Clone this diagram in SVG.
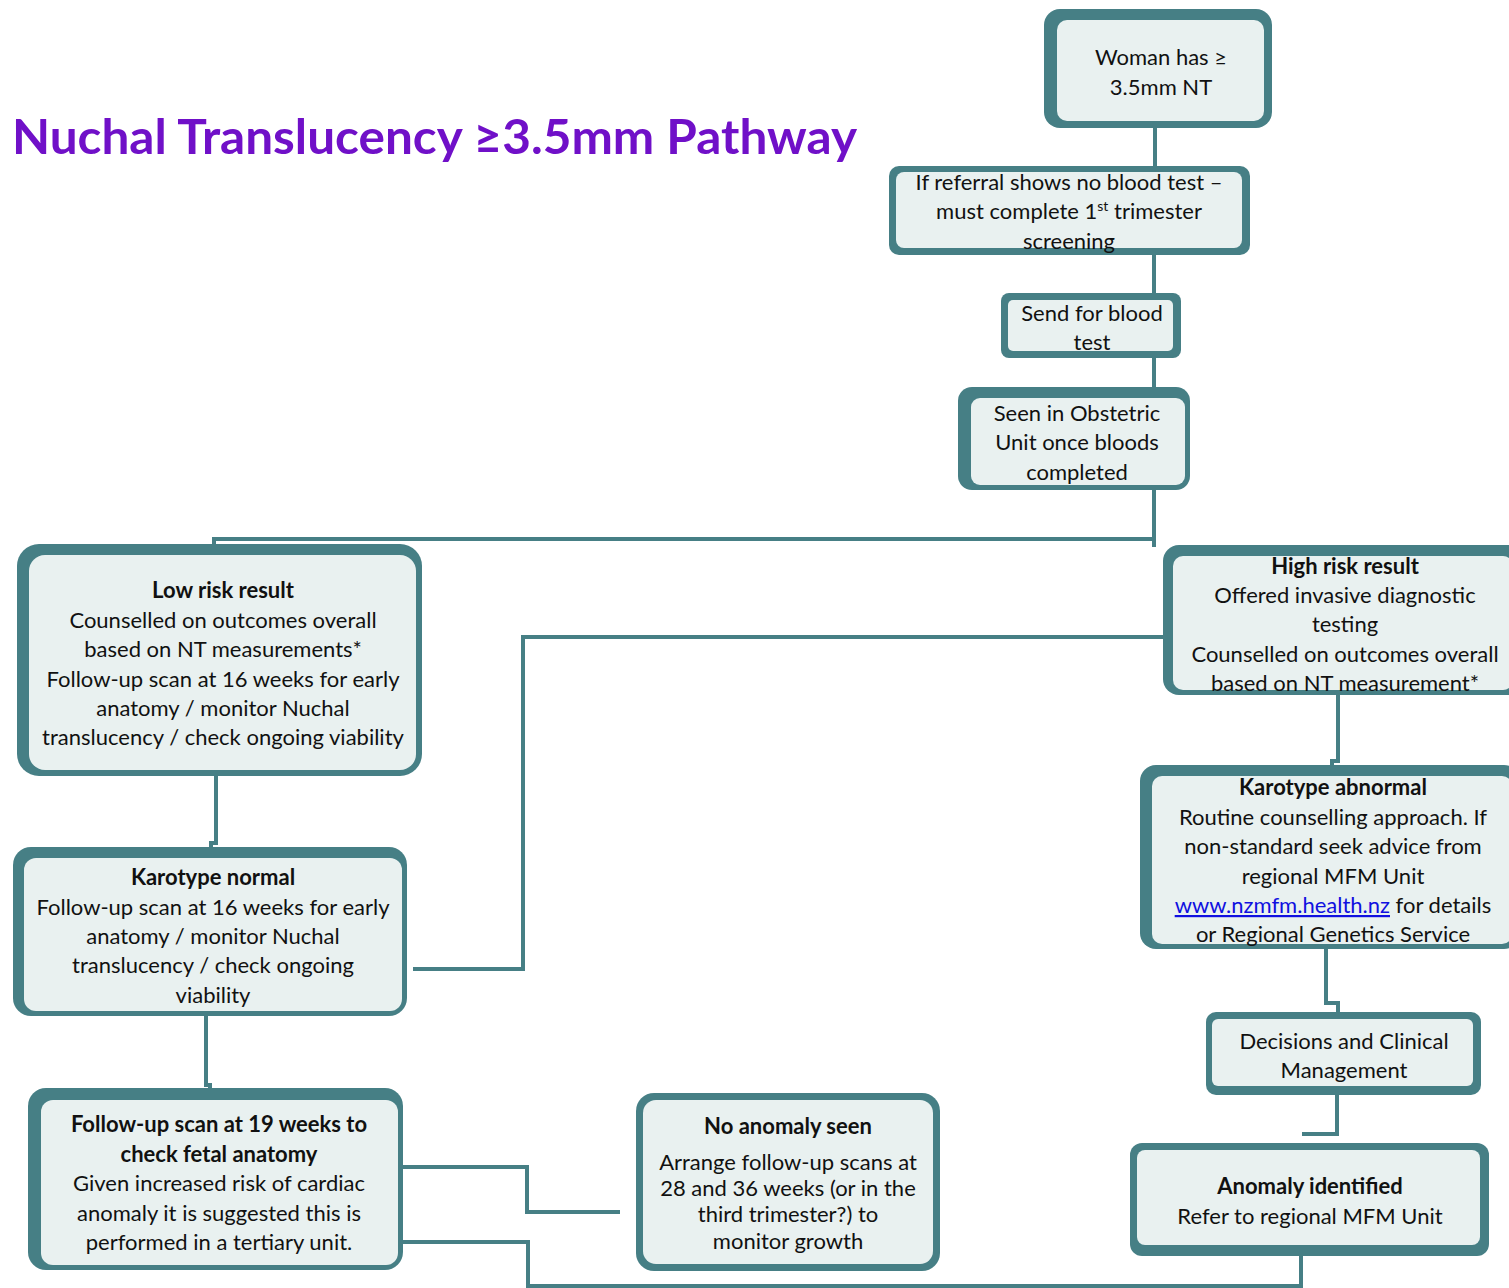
<svg xmlns="http://www.w3.org/2000/svg" width="1509" height="1288" viewBox="0 0 1509 1288">
<style>
.o{fill:#467f85}
.i{fill:#e9f1f0}
.t{font-family:Lato,"Noto Sans",sans-serif;font-size:22px;fill:#111;text-anchor:middle}
.b{font-weight:bold}
.c{fill:none;stroke:#467f85;stroke-width:4}
.title{font-family:Lato,"Noto Sans",sans-serif;font-size:48px;font-weight:bold;fill:#7010c8}
.lnk{fill:#1010e0;text-decoration:underline}
</style>
<rect width="1509" height="1288" fill="#fff"/>
<text class="title" x="12" y="154" textLength="845" lengthAdjust="spacingAndGlyphs">Nuchal Translucency ≥3.5mm Pathway</text>
<g id="connectors">
<path class="c" d="M1155,126 V168"/>
<path class="c" d="M1154,253 V295"/>
<path class="c" d="M1154,356 V389"/>
<path class="c" d="M1154,488 V547"/>
<path class="c" d="M1154,539 H214 V546"/>
<path class="c" d="M1165,637 H523 V969 H413"/>
<path class="c" d="M216,774 V843 H211 V850"/>
<path class="c" d="M206,1014 V1085 H210 V1091"/>
<path class="c" d="M399,1167 H527 V1212 H620"/>
<path class="c" d="M399,1242 H528 V1286 H1301 V1254"/>
<path class="c" d="M1338,693 V761 H1332 V767"/>
<path class="c" d="M1326,946 V1003 H1338 V1014"/>
<path class="c" d="M1337,1093 V1134 H1302"/>
</g>
<g id="n1">
<rect class="o" x="1044" y="9" width="228" height="119" rx="16"/>
<rect class="i" x="1057" y="20" width="207" height="101" rx="10"/>
<text class="t" x="1161" y="65">Woman has ≥</text>
<text class="t" x="1161" y="95">3.5mm NT</text>
</g>
<g id="n2">
<rect class="o" x="889" y="166" width="361" height="89" rx="10"/>
<rect class="i" x="896" y="172" width="346" height="76" rx="8"/>
<text class="t" x="1069" y="190">If referral shows no blood test –</text>
<text class="t" x="1069" y="219">must complete 1<tspan font-size="14" dy="-8">st</tspan><tspan dy="8"> trimester</tspan></text>
<text class="t" x="1069" y="249">screening</text>
</g>
<g id="n3">
<rect class="o" x="1001" y="293" width="180" height="65" rx="8"/>
<rect class="i" x="1008" y="300" width="165" height="51" rx="5"/>
<text class="t" x="1092" y="321">Send for blood</text>
<text class="t" x="1092" y="350">test</text>
</g>
<g id="n4">
<rect class="o" x="958" y="387" width="232" height="103" rx="14"/>
<rect class="i" x="971" y="398" width="214" height="87" rx="9"/>
<text class="t" x="1077" y="421">Seen in Obstetric</text>
<text class="t" x="1077" y="450">Unit once bloods</text>
<text class="t" x="1077" y="480">completed</text>
</g>
<g id="n5">
<rect class="o" x="17" y="544" width="405" height="232" rx="22"/>
<rect class="i" x="29" y="555" width="387" height="215" rx="16"/>
<text class="t b" x="223" y="598">Low risk result</text>
<text class="t" x="223" y="628">Counselled on outcomes overall</text>
<text class="t" x="223" y="657">based on NT measurements*</text>
<text class="t" x="223" y="687">Follow-up scan at 16 weeks for early</text>
<text class="t" x="223" y="716">anatomy / monitor Nuchal</text>
<text class="t" x="223" y="745">translucency / check ongoing viability</text>
</g>
<g id="n6">
<rect class="o" x="1163" y="545" width="360" height="150" rx="16"/>
<rect class="i" x="1173" y="556" width="340" height="134" rx="10"/>
<text class="t b" x="1345" y="574">High risk result</text>
<text class="t" x="1345" y="603">Offered invasive diagnostic</text>
<text class="t" x="1345" y="632">testing</text>
<text class="t" x="1345" y="662">Counselled on outcomes overall</text>
<text class="t" x="1345" y="691">based on NT measurement*</text>
</g>
<g id="n7">
<rect class="o" x="13" y="847" width="394" height="169" rx="18"/>
<rect class="i" x="24" y="858" width="378" height="153" rx="12"/>
<text class="t b" x="213" y="885">Karotype normal</text>
<text class="t" x="213" y="915">Follow-up scan at 16 weeks for early</text>
<text class="t" x="213" y="944">anatomy / monitor Nuchal</text>
<text class="t" x="213" y="973">translucency / check ongoing</text>
<text class="t" x="213" y="1003">viability</text>
</g>
<g id="n8">
<rect class="o" x="1140" y="765" width="380" height="184" rx="16"/>
<rect class="i" x="1152" y="776" width="360" height="168" rx="10"/>
<text class="t b" x="1333" y="795">Karotype abnormal</text>
<text class="t" x="1333" y="825">Routine counselling approach. If</text>
<text class="t" x="1333" y="854">non-standard seek advice from</text>
<text class="t" x="1333" y="884">regional MFM Unit</text>
<text class="t" x="1333" y="913"><tspan class="lnk">www.nzmfm.health.nz</tspan> for details</text>
<text class="t" x="1333" y="942">or Regional Genetics Service</text>
</g>
<g id="n9">
<rect class="o" x="1206" y="1012" width="275" height="83" rx="10"/>
<rect class="i" x="1212" y="1019" width="261" height="67" rx="6"/>
<text class="t" x="1344" y="1049">Decisions and Clinical</text>
<text class="t" x="1344" y="1078">Management</text>
</g>
<g id="n10">
<rect class="o" x="28" y="1088" width="375" height="182" rx="18"/>
<rect class="i" x="41" y="1100" width="357" height="165" rx="12"/>
<text class="t b" x="219" y="1132">Follow-up scan at 19 weeks to</text>
<text class="t b" x="219" y="1162">check fetal anatomy</text>
<text class="t" x="219" y="1191">Given increased risk of cardiac</text>
<text class="t" x="219" y="1221">anomaly it is suggested this is</text>
<text class="t" x="219" y="1250">performed in a tertiary unit.</text>
</g>
<g id="n11">
<rect class="o" x="636" y="1093" width="304" height="178" rx="18"/>
<rect class="i" x="643" y="1100" width="290" height="164" rx="13"/>
<text class="t b" x="788" y="1134">No anomaly seen</text>
<text class="t" x="788" y="1170">Arrange follow-up scans at</text>
<text class="t" x="788" y="1196">28 and 36 weeks (or in the</text>
<text class="t" x="788" y="1222">third trimester?) to</text>
<text class="t" x="788" y="1249">monitor growth</text>
</g>
<g id="n12">
<rect class="o" x="1130" y="1143" width="359" height="113" rx="12"/>
<rect class="i" x="1137" y="1150" width="343" height="95" rx="8"/>
<text class="t b" x="1310" y="1194">Anomaly identified</text>
<text class="t" x="1310" y="1224">Refer to regional MFM Unit</text>
</g>
</svg>
